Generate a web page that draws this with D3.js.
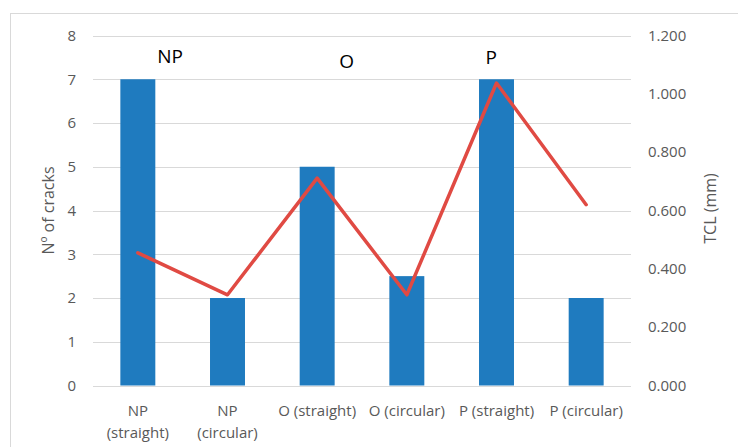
<!DOCTYPE html>
<html>
<head>
<meta charset="utf-8">
<script src="https://cdn.jsdelivr.net/npm/d3@7"></script>
<style>
  html, body { margin: 0; padding: 0; background: #fff; }
  svg { display: block; font-family: "Open Sans", "Liberation Sans", sans-serif; }
</style>
</head>
<body>
<svg id="chart" width="738" height="447"></svg>
<script>
// Crack counts (bars, left axis) and total crack length (line, right axis)
const categories = [
  ["NP", "(straight)"],
  ["NP", "(circular)"],
  ["O (straight)"],
  ["O (circular)"],
  ["P (straight)"],
  ["P (circular)"]
];
const crackCounts = [7, 2, 5, 2.5, 7, 2];
const tclValues = [0.455, 0.311, 0.711, 0.311, 1.037, 0.620];
const leftTicks = [0, 1, 2, 3, 4, 5, 6, 7, 8];
const rightTicks = [0, 0.2, 0.4, 0.6, 0.8, 1.0, 1.2];
// free-floating group captions, placed in category units / left-axis units
const groupLabels = [
  { text: "NP", at: 0.36, val: 7.38 },
  { text: "O", at: 2.33, val: 7.26 },
  { text: "P", at: 3.94, val: 7.35 }
];

const svg = d3.select("#chart");
const plot = { left: 93, right: 631, top: 35.5, bottom: 385.5 };

const keys = categories.map((c, i) => i);
const x = d3.scaleBand().domain(keys).range([plot.left, plot.right]).paddingInner(0.61).paddingOuter(0.305);
const yL = d3.scaleLinear().domain([0, 8]).range([plot.bottom, plot.top]);
const yR = d3.scaleLinear().domain([0, 1.2]).range([plot.bottom, plot.top]);
const cx = i => x(i) + x.bandwidth() / 2;

// outer frame
svg.append("rect")
  .attr("x", 10.5).attr("y", 13.5).attr("width", 740).attr("height", 450)
  .attr("fill", "none").attr("stroke", "#d9d9d9").attr("stroke-width", 1);

// gridlines
svg.append("g").selectAll("line").data(leftTicks).join("line")
  .attr("x1", plot.left).attr("x2", plot.right)
  .attr("y1", d => Math.round(yL(d)) + 0.5).attr("y2", d => Math.round(yL(d)) + 0.5)
  .attr("stroke", "#d9d9d9").attr("stroke-width", 1);

// left axis
const leftAxis = svg.append("g").attr("transform", `translate(${plot.left},0)`)
  .call(d3.axisLeft(yL).tickValues(leftTicks).tickFormat(d3.format("d")).tickSize(0).tickPadding(17));
leftAxis.select(".domain").remove();
leftAxis.selectAll("text").attr("fill", "#595959").style("font-size", "15px")
  .style("font-family", "'Open Sans', sans-serif");

// right axis
const rightAxis = svg.append("g").attr("transform", `translate(${plot.right},0)`)
  .call(d3.axisRight(yR).tickValues(rightTicks).tickFormat(d3.format(".3f")).tickSize(0).tickPadding(17));
rightAxis.select(".domain").remove();
rightAxis.selectAll("text").attr("fill", "#595959").style("font-size", "15px")
  .style("font-family", "'Open Sans', sans-serif");

// bars
svg.append("g").selectAll("rect").data(crackCounts).join("rect")
  .attr("x", (d, i) => x(i))
  .attr("width", x.bandwidth())
  .attr("y", d => yL(d))
  .attr("height", d => yL(0) - yL(d))
  .attr("fill", "#1f7bbf");

// TCL line
const line = d3.line()
  .x((d, i) => cx(i))
  .y(d => yR(d));
svg.append("path").datum(tclValues)
  .attr("d", line)
  .attr("fill", "none")
  .attr("stroke", "#e04a43")
  .attr("stroke-width", 3.5)
  .attr("stroke-linejoin", "round")
  .attr("stroke-linecap", "round");

// category labels
const catG = svg.append("g");
categories.forEach((lines, i) => {
  const t = catG.append("text")
    .attr("x", cx(i))
    .attr("y", 416)
    .attr("text-anchor", "middle")
    .attr("fill", "#595959")
    .style("font-size", "15px");
  lines.forEach((s, j) => {
    t.append("tspan").attr("x", cx(i)).attr("dy", j === 0 ? 0 : 22).text(s);
  });
});

// group annotations
svg.append("g").selectAll("text").data(groupLabels).join("text")
  .attr("x", d => cx(0) + d.at * x.step())
  .attr("y", d => yL(d.val))
  .attr("text-anchor", "middle")
  .attr("fill", "#000")
  .style("font-size", "19px")
  .text(d => d.text);

// axis titles
svg.append("text")
  .attr("transform", `translate(54,${(plot.top + plot.bottom) / 2}) rotate(-90)`)
  .attr("text-anchor", "middle")
  .attr("fill", "#595959")
  .style("font-size", "16px")
  .text("Nº of cracks");

svg.append("text")
  .attr("transform", `translate(716,${(plot.top + plot.bottom) / 2 - 2}) rotate(-90)`)
  .attr("text-anchor", "middle")
  .attr("fill", "#595959")
  .style("font-size", "16px")
  .text("TCL (mm)");
</script>
</body>
</html>
